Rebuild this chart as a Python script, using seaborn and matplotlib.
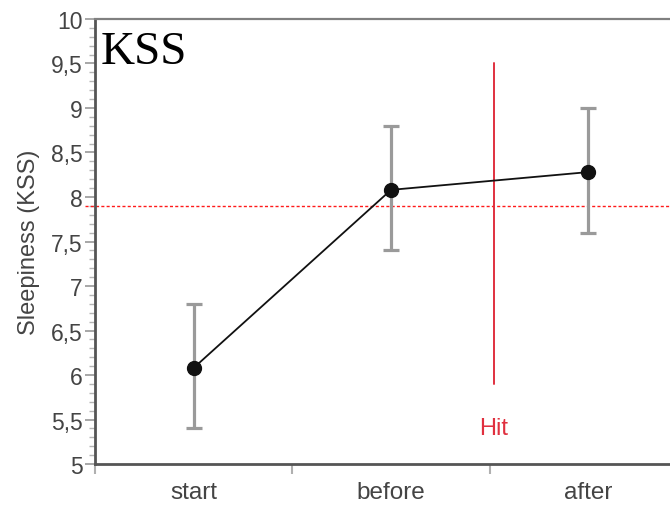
import matplotlib
matplotlib.use("Agg")
import matplotlib.pyplot as plt
import matplotlib.transforms as mtransforms
from matplotlib.ticker import MultipleLocator, FixedLocator, FuncFormatter
import seaborn as sns
import pandas as pd

# Sleepiness ratings (KSS) at three measurement points
categories = ["start", "before", "after"]
means = [6.08, 8.08, 8.28]
lower = [5.4, 7.4, 7.6]
upper = [6.8, 8.8, 9.0]

threshold = 7.9          # dotted reference level
hit_position = 1.52      # event marker between "before" and "after"
hit_span = [5.9, 9.5]
hit_label = "Hit"

sns.set_theme(style="white")
plt.rcParams["font.family"] = ["Liberation Sans", "DejaVu Sans"]

df = pd.DataFrame({"phase": categories, "kss": means})

fig = plt.figure(figsize=(6.7, 5.06), dpi=100)
ax = fig.add_axes([0.1418, 0.081, 0.8836, 0.8795])

# mean trajectory
sns.pointplot(data=df, x="phase", y="kss", order=categories, color="#111111",
              markers="o", markersize=10, linewidth=1.3, errorbar=None, ax=ax)
for ln in ax.lines:
    ln.set_zorder(4)

# error bars
xs = list(range(len(categories)))
yerr = [[m - lo for m, lo in zip(means, lower)], [up - m for m, up in zip(means, upper)]]
ax.errorbar(xs, means, yerr=yerr, fmt="none", ecolor="#9a9a9a", elinewidth=2.3,
            capsize=6, capthick=2.3, zorder=2)

# dotted threshold line running across the whole figure width
trans = mtransforms.blended_transform_factory(fig.transFigure, ax.transData)
ax.plot([85 / 670, 1.0], [threshold, threshold], transform=trans, color="#ff1a1a",
        lw=1.0, ls=(0, (2.2, 1.6)), clip_on=False, zorder=1)

# event marker
ax.plot([hit_position, hit_position], hit_span, color="#e0303f", lw=1.4, zorder=1)
ax.text(hit_position, 5.41, hit_label, color="#e0303f", fontsize=17,
        ha="center", va="center")

ax.text(0.01, 0.975, "KSS", transform=ax.transAxes, fontsize=34,
        family=["Liberation Serif", "DejaVu Serif"], color="black", ha="left", va="top")

ax.set_xlim(-0.5, 2.5)
ax.set_ylim(5, 10)

# y axis: comma decimals, minor ticks every 0.1
ax.yaxis.set_major_locator(MultipleLocator(0.5))
ax.yaxis.set_minor_locator(MultipleLocator(0.1))
ax.yaxis.set_major_formatter(FuncFormatter(lambda v, p: f"{v:g}".replace(".", ",")))
ax.tick_params(axis="y", which="major", direction="out", length=7.5, width=1.3,
               color="#a0a0a0", labelsize=16.5, labelcolor="#444444", pad=1.5, left=True)
ax.tick_params(axis="y", which="minor", direction="out", length=4, width=1.0,
               color="#b5b5b5", left=True)

# x axis: labels at categories, tick marks at the boundaries
ax.xaxis.set_minor_locator(FixedLocator([-0.5, 0.5, 1.5, 2.5]))
ax.tick_params(axis="x", which="major", length=0, labelsize=17.5, labelcolor="#444444", pad=12)
ax.tick_params(axis="x", which="minor", direction="out", length=7, width=1.5,
               color="#b0b0b0", bottom=True)

ax.set_xlabel("")
ax.set_ylabel("Sleepiness (KSS)", fontsize=17, color="#444444")
ax.yaxis.set_label_coords(-0.093, 0.5)

for side in ["left", "bottom"]:
    ax.spines[side].set_color("#555555")
    ax.spines[side].set_linewidth(2.0)
ax.spines["top"].set_color("#808080")
ax.spines["top"].set_linewidth(1.6)
ax.spines["right"].set_visible(False)

fig.savefig("out.png", dpi=100)
